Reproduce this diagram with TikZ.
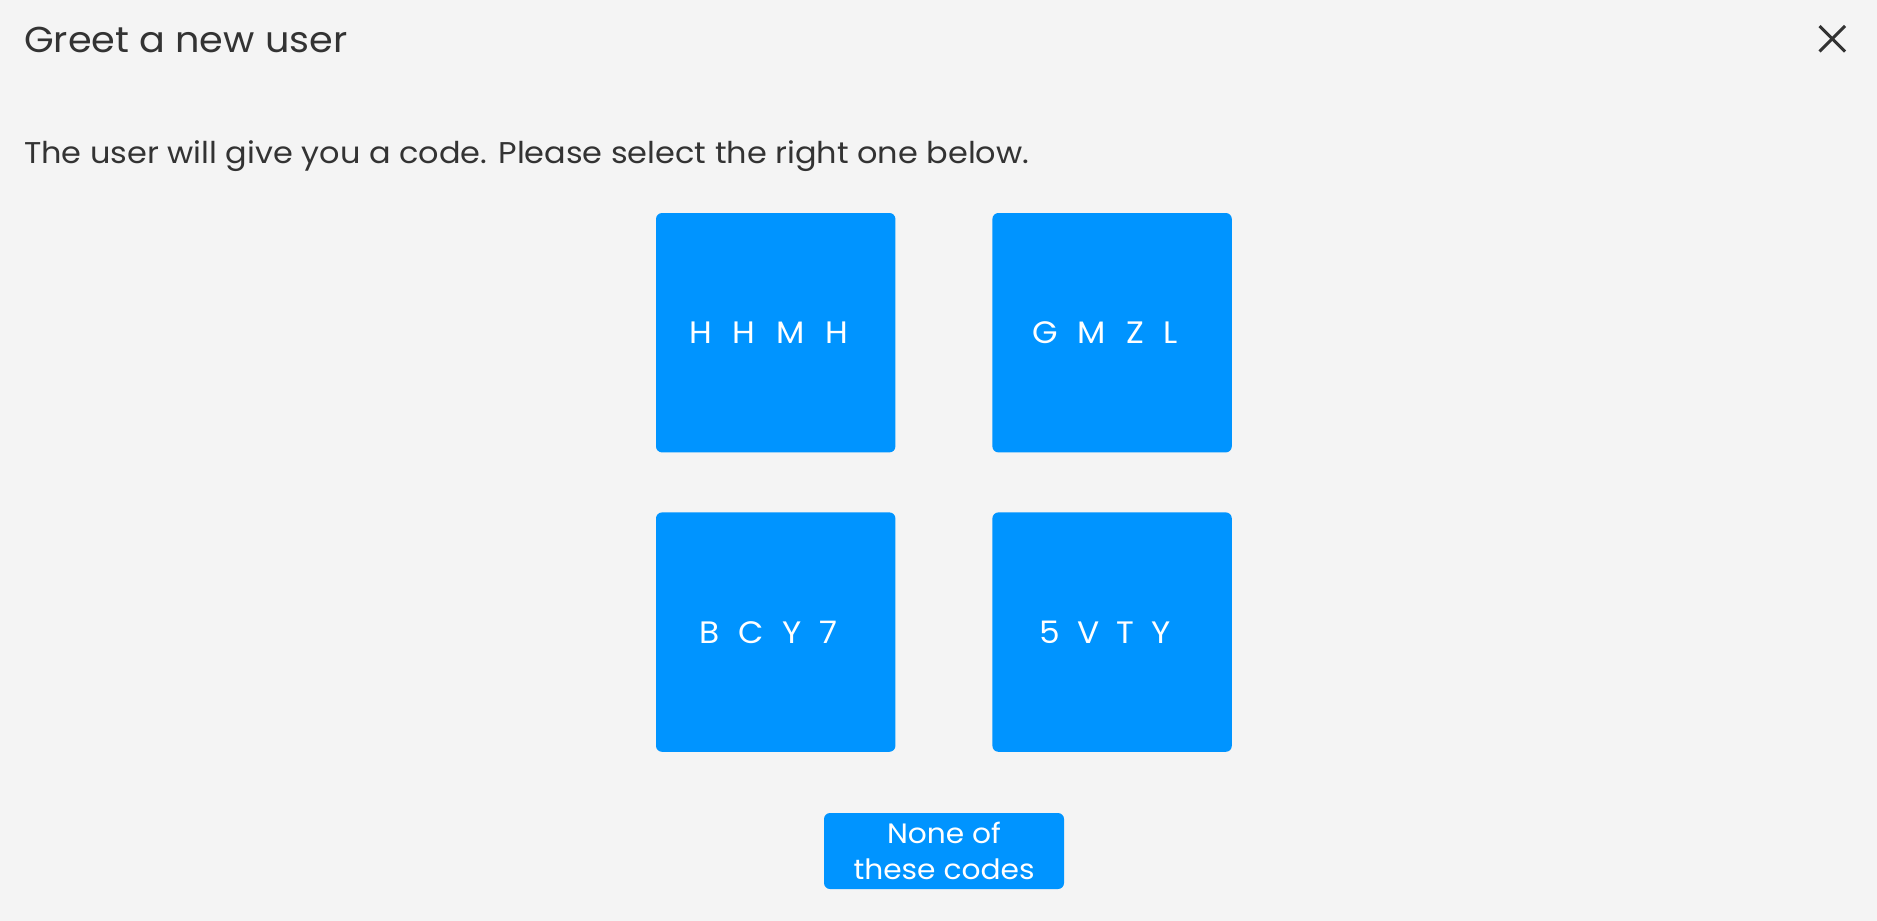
\documentclass[tikz,border=0pt]{standalone}
\usepackage{fontspec}
\setmainfont{Poppins}
\definecolor{bg}{RGB}{244,244,244}
\definecolor{ink}{RGB}{51,51,51}
\definecolor{btn}{RGB}{0,148,255}
\begin{document}
\begin{tikzpicture}[x=1pt,y=-1pt,
  codebox/.style={fill=btn,rounded corners=6pt,minimum width=239.4pt,minimum height=239.4pt,inner sep=0pt,
    text=white,font=\fontsize{31}{36}\selectfont\addfontfeature{LetterSpace=#1,FakeStretch=1.06},
    execute at begin node={\hspace*{-14pt}}},
  codebox/.default=36,
  nonebtn/.style={fill=btn,rounded corners=6pt,minimum width=240pt,minimum height=76pt,inner sep=0pt,
    text=white,align=center,font=\fontsize{28}{36}\selectfont\addfontfeature{FakeStretch=1.06}},
  title/.style={anchor=base west,inner sep=0pt,text=ink,font=\fontsize{36}{44}\selectfont\addfontfeature{FakeStretch=1.06}},
  subtitle/.style={anchor=base west,inner sep=0pt,text=ink,font=\fontsize{30}{36}\selectfont\addfontfeature{FakeStretch=1.065}},
  closeline/.style={draw=ink,line width=3pt}]
\fill[bg] (0,0) rectangle (1877,921);
\useasboundingbox (0,0) rectangle (1877,921);
\node[title] (title) at (24,52) {Greet a new user};
\coordinate (x1) at (1819.5,26);
\coordinate (x2) at (1845,51.5);
\coordinate (x3) at (1819.5,51.5);
\coordinate (x4) at (1845,26);
\draw[closeline] (x1) -- (x2);
\draw[closeline] (x3) -- (x4);
\node[subtitle] (sub) at (24,163.3) {The user will give you a code. Please select the right one below.};
\node[codebox=39] (c1) at (775.7,332.7) {H H M H};
\node[codebox=36] (c2) at (1112.1,332.7) {G M Z L};
\node[codebox=31] (c3) at (775.7,632.1) {B C Y 7};
\node[codebox=27] (c4) at (1112.1,632.1) {5 V T Y};
\node[nonebtn] (none) at (944,851) {None of\\these codes};
\end{tikzpicture}
\end{document}
